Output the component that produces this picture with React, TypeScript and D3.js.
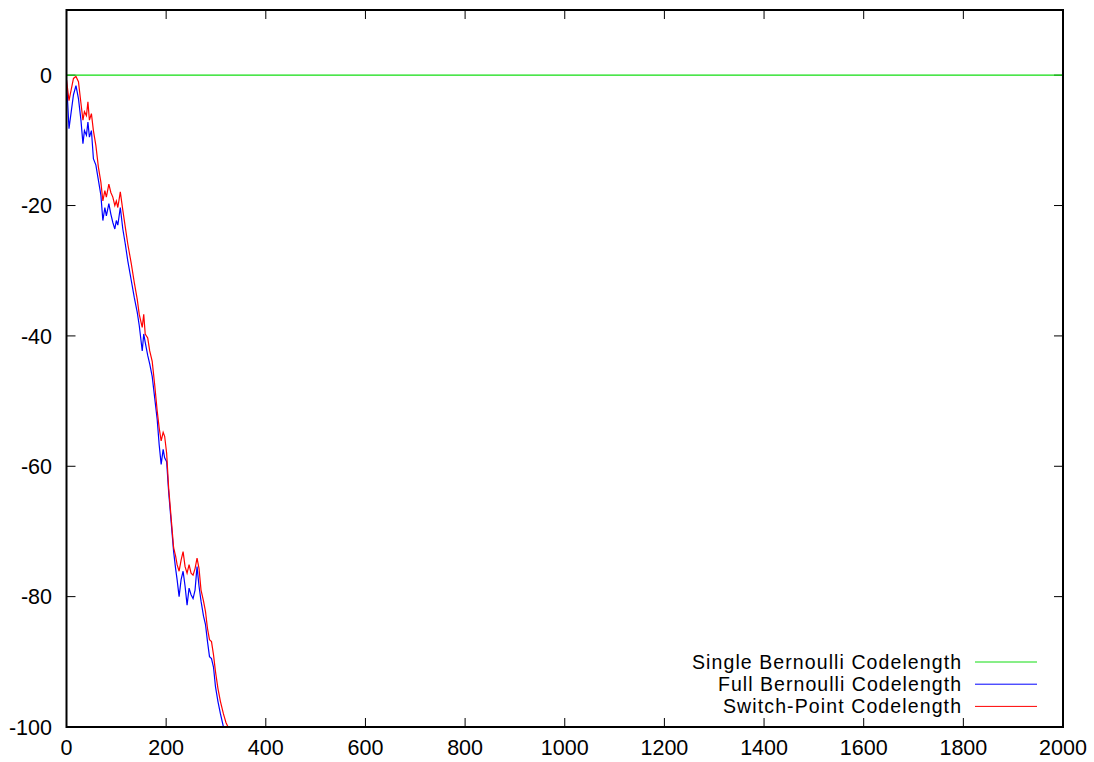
import React from 'react';
import * as d3 from 'd3';

const width = 1094;
const height = 762;
const margin = { top: 10, right: 31, bottom: 35, left: 66.5 };

// sample positions (number of outcomes)
const steps = [0, 5, 14, 19, 24, 29, 33, 36, 40, 43, 46, 50, 54, 59, 64, 69, 73, 77, 80, 85,
  89, 93, 97, 100, 103, 108, 113, 118, 123, 130, 136, 142, 146, 152, 155, 158, 163, 167, 172, 177,
  182, 186, 190, 194, 197, 201, 205, 210, 215, 219, 222, 226, 230, 234, 238, 242, 246, 250, 254, 258,
  262, 266, 270, 275, 279, 283, 287, 291, 295, 299, 304, 309, 315, 320, 326];

const fullBernoulli = [-0.7, -8.2, -3.0, -1.6, -3.6, -6.9, -10.5, -8.5, -9.2, -7.2, -9.5, -8.5, -12.8, -13.8, -16.1, -18.4, -22.3, -20.3, -21.6, -19.7,
  -21.3, -22.6, -23.6, -22.3, -23.0, -20.3, -23.6, -25.9, -28.5, -31.5, -34.1, -36.4, -38.4, -42.3, -39.7, -41.0, -43.0, -44.3, -46.2, -49.5,
  -52.8, -56.7, -59.7, -57.4, -58.7, -59.3, -63.9, -68.5, -73.1, -75.7, -77.4, -80.0, -77.4, -76.1, -78.4, -81.3, -78.7, -79.7, -80.3, -79.0,
  -75.4, -78.4, -80.7, -83.0, -84.3, -86.9, -89.2, -89.5, -90.8, -93.8, -96.1, -98.0, -100.0, -101.3, -102.6];

const switchPoint = [-0.7, -3.9, -0.5, -0.2, -1.0, -4.3, -6.9, -5.6, -6.2, -4.1, -6.9, -5.9, -8.5, -10.8, -14.1, -16.4, -19.3, -17.7, -18.7, -16.7,
  -18.0, -18.7, -20.0, -19.3, -20.3, -17.9, -20.7, -23.3, -25.9, -28.9, -31.8, -34.4, -36.7, -38.7, -36.7, -39.7, -40.3, -42.3, -43.9, -47.5,
  -51.5, -54.1, -56.1, -54.8, -55.4, -58.0, -63.3, -67.9, -72.5, -73.8, -75.1, -76.1, -74.4, -73.1, -75.4, -76.4, -75.1, -76.4, -76.7, -75.7,
  -74.1, -75.7, -79.0, -80.7, -82.3, -84.9, -86.6, -86.9, -88.9, -91.5, -94.1, -96.1, -98.0, -99.3, -100.3];

const singleSteps = [0, 2000];
const singleBernoulli = [0, 0];

const xTicks = [0, 200, 400, 600, 800, 1000, 1200, 1400, 1600, 1800, 2000];
const yTicks = [0, -20, -40, -60, -80, -100];

const legend = [
  { label: 'Single Bernoulli Codelength', color: '#11dd11', len: 269 },
  { label: 'Full Bernoulli Codelength', color: '#0000ff', len: 243 },
  { label: 'Switch-Point Codelength', color: '#ff0000', len: 238 },
];

const font = '"Liberation Sans", Arial, Helvetica, sans-serif';

export default function App() {
  const x = d3.scaleLinear().domain([0, 2000]).range([margin.left, width - margin.right]);
  const y = d3.scaleLinear().domain([-100, 10]).range([height - margin.bottom, margin.top]);

  const line = d3.line<[number, number]>()
    .x(d => x(d[0]))
    .y(d => y(d[1]));

  const pairs = (xs: number[], ys: number[]) => xs.map((v, i) => [v, ys[i]] as [number, number]);

  const x0 = x(0), x1 = x(2000), yTop = y(10), yBot = y(-100);
  const tick = 9;

  return (
    <svg width={width} height={height} style={{ position: 'absolute', left: 0, top: 0, background: '#fff' }}>
      <defs>
        <clipPath id="plot">
          <rect x={x0} y={yTop} width={x1 - x0} height={yBot - yTop} />
        </clipPath>
      </defs>

      {/* ticks, mirrored on all sides */}
      {xTicks.map(t => (
        <g key={'x' + t}>
          <line x1={x(t)} x2={x(t)} y1={yBot} y2={yBot - tick} stroke="#000" strokeWidth={1} />
          <line x1={x(t)} x2={x(t)} y1={yTop} y2={yTop + tick} stroke="#000" strokeWidth={1} />
          <text x={x(t)} y={yBot + 28} textAnchor="middle" fontFamily={font} fontSize={21.5} fill="#000">{t}</text>
        </g>
      ))}
      {yTicks.map(t => (
        <g key={'y' + t}>
          <line x1={x0} x2={x0 + tick} y1={y(t)} y2={y(t)} stroke="#000" strokeWidth={1} />
          <line x1={x1} x2={x1 - tick} y1={y(t)} y2={y(t)} stroke="#000" strokeWidth={1} />
          <text x={52} y={y(t)} dy="0.36em" textAnchor="end" fontFamily={font} fontSize={21.5} fill="#000">{t}</text>
        </g>
      ))}

      <g clipPath="url(#plot)" fill="none" strokeWidth={1.2}>
        <path d={line(pairs(singleSteps, singleBernoulli)) || ''} stroke={legend[0].color} />
        <path d={line(pairs(steps, fullBernoulli)) || ''} stroke={legend[1].color} />
        <path d={line(pairs(steps, switchPoint)) || ''} stroke={legend[2].color} />
      </g>

      {legend.map((l, i) => (
        <g key={l.label}>
          <text x={961} y={662 + i * 22.2} dy="0.36em" textAnchor="end" textLength={l.len} lengthAdjust="spacing"
            fontFamily={font} fontSize={19.5} fill="#000">{l.label}</text>
          <line x1={975} x2={1037} y1={662 + i * 22.2} y2={662 + i * 22.2} stroke={l.color} strokeWidth={1} />
        </g>
      ))}

      <rect x={x0} y={yTop} width={x1 - x0} height={yBot - yTop} fill="none" stroke="#000" strokeWidth={2} />
    </svg>
  );
}
